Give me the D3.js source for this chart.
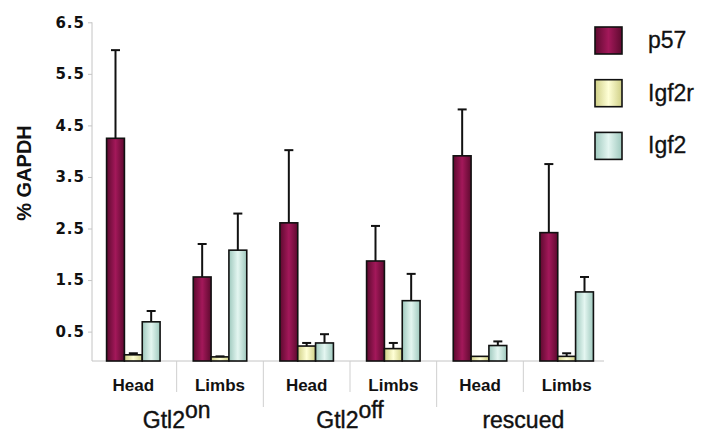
<!DOCTYPE html>
<html>
<head>
<meta charset="utf-8">
<script src="https://cdn.jsdelivr.net/npm/d3@7"></script>
<style>
  html, body { margin: 0; padding: 0; background: #fff; }
  svg { display: block; font-family: "Liberation Sans", Arial, sans-serif; }
  .ylab { font-family: "DejaVu Sans", sans-serif; font-size: 15px; font-weight: bold; fill: #111; letter-spacing: 1px; }
</style>
</head>
<body>
<svg id="chart" width="709" height="435"></svg>
<script>
// Expression relative to GAPDH, by genotype and tissue
const groups = ["Gtl2on", "Gtl2off", "rescued"];
const groupBase = ["Gtl2", "Gtl2", "rescued"];
const groupSup = ["on", "off", ""];
const tissues = ["Head", "Limbs"];
const seriesNames = ["p57", "Igf2r", "Igf2"];

// Means (6 categories: group x tissue)
const p57 = [4.25, 1.56, 2.61, 1.87, 3.91, 2.42];
const igf2r = [0.05, 0.01, 0.22, 0.17, 0.02, 0.02];
const igf2 = [0.69, 2.08, 0.28, 1.10, 0.23, 1.27];
// Upper error bars
const p57Err = [1.71, 0.64, 1.41, 0.68, 0.90, 1.33];
const igf2rErr = [0.03, 0.01, 0.06, 0.11, 0.00, 0.06];
const igf2Err = [0.21, 0.71, 0.17, 0.52, 0.08, 0.29];

const yTicks = [0.5, 1.5, 2.5, 3.5, 4.5, 5.5, 6.5];

const series = [
  { name: seriesNames[0], values: p57, err: p57Err, c: ["#5e0a2f", "#a3185a", "#5e0a2f"] },
  { name: seriesNames[1], values: igf2r, err: igf2rErr, c: ["#cfcf86", "#ffffd6", "#cfcf86"] },
  { name: seriesNames[2], values: igf2, err: igf2Err, c: ["#9fc9be", "#e4f6f1", "#9fc9be"] }
];

const categories = [];
groups.forEach((g, gi) => tissues.forEach(t => categories.push({ id: g + "|" + t, group: gi, tissue: t })));

const svg = d3.select("#chart");
const defs = svg.append("defs");
series.forEach((s, i) => {
  const lg = defs.append("linearGradient").attr("id", "grad" + i)
    .attr("x1", "0%").attr("x2", "100%").attr("y1", "0%").attr("y2", "0%");
  lg.append("stop").attr("offset", "0%").attr("stop-color", s.c[0]);
  lg.append("stop").attr("offset", "50%").attr("stop-color", s.c[1]);
  lg.append("stop").attr("offset", "100%").attr("stop-color", s.c[2]);
});

const axisX = 92, baseY = 361, topY = 22.3;
const x = d3.scaleBand().domain(categories.map(d => d.id)).range([90, 610]).padding(0);
const y = d3.scaleLinear().domain([-0.07, 6.5]).range([baseY, topY]);
const groupW = 53.5;
const xs = d3.scaleBand().domain(seriesNames).range([0, groupW]).padding(0);

// y axis: line and ticks from d3, labels drawn separately
const yAxis = d3.axisLeft(y).tickValues(yTicks).tickSize(4).tickFormat("");
const ya = svg.append("g").attr("transform", `translate(${axisX},0)`).call(yAxis);
ya.select(".domain").attr("d", `M0,${topY}V${baseY}`).attr("stroke", "#c4c4c4").attr("stroke-width", 1);
ya.selectAll(".tick line").attr("stroke", "#c4c4c4");
svg.append("g").selectAll("text").data(yTicks).join("text")
  .attr("class", "ylab")
  .attr("x", axisX - 7).attr("y", d => y(d)).attr("dy", "0.36em")
  .attr("text-anchor", "end")
  .text(d => d3.format(".1f")(d));

// baseline
svg.append("line").attr("x1", axisX).attr("x2", x.range()[1] - 6)
  .attr("y1", baseY).attr("y2", baseY).attr("stroke", "#c4c4c4").attr("stroke-width", 1);

// category separators
categories.forEach((d, i) => {
  if (i === 0) return;
  const xx = x(d.id);
  const isGroupEdge = categories[i - 1].group !== d.group;
  svg.append("line").attr("x1", xx).attr("x2", xx)
    .attr("y1", baseY).attr("y2", isGroupEdge ? 407 : 392)
    .attr("stroke", "#cfcfcf").attr("stroke-width", 1);
});

// bars
const barG = svg.append("g");
series.forEach((s, si) => {
  categories.forEach((c, ci) => {
    const x0 = x(c.id) + x.bandwidth() / 2 - groupW / 2 + xs(s.name);
    const v = s.values[ci];
    barG.append("rect")
      .attr("x", x0).attr("width", xs.bandwidth())
      .attr("y", y(v)).attr("height", Math.max(0, y.range()[0] - y(v)))
      .attr("fill", `url(#grad${si})`).attr("stroke", "#111").attr("stroke-width", 1.6);
  });
});

// error bars (upper only)
const errG = svg.append("g").attr("stroke", "#111").attr("stroke-width", 2);
series.forEach((s, si) => {
  categories.forEach((c, ci) => {
    const e = s.err[ci];
    if (!(e > 0)) return;
    const cx = x(c.id) + x.bandwidth() / 2 - groupW / 2 + xs(s.name) + xs.bandwidth() / 2;
    const v = s.values[ci];
    errG.append("line").attr("x1", cx).attr("x2", cx).attr("y1", y(v)).attr("y2", y(v + e));
    errG.append("line").attr("x1", cx - 4.5).attr("x2", cx + 4.5).attr("y1", y(v + e)).attr("y2", y(v + e));
  });
});

// tissue labels
svg.append("g").selectAll("text").data(categories).join("text")
  .attr("x", d => x(d.id) + x.bandwidth() / 2)
  .attr("y", 391)
  .attr("text-anchor", "middle")
  .attr("font-size", 17).attr("font-weight", "bold").attr("fill", "#111")
  .text(d => d.tissue);

// group labels
groups.forEach((g, gi) => {
  const ids = categories.filter(c => c.group === gi).map(c => c.id);
  const cx = (x(ids[0]) + x(ids[ids.length - 1]) + x.bandwidth()) / 2;
  const t = svg.append("text").attr("x", cx).attr("y", 428)
    .attr("text-anchor", "middle").attr("font-size", 23).attr("fill", "#111")
    .attr("stroke", "#111").attr("stroke-width", 0.4);
  t.append("tspan").text(groupBase[gi]);
  if (groupSup[gi]) t.append("tspan").attr("dy", -10).text(groupSup[gi]);
});

// y title
svg.append("text")
  .attr("transform", `translate(31,173) rotate(-90)`)
  .attr("text-anchor", "middle")
  .attr("font-size", 20).attr("font-weight", "bold").attr("fill", "#111")
  .text("% GAPDH");

// legend
const leg = svg.append("g").attr("transform", "translate(595,27)");
series.forEach((s, si) => {
  const g = leg.append("g").attr("transform", `translate(0,${si * 52.7})`);
  g.append("rect").attr("width", 27).attr("height", 27)
    .attr("fill", `url(#grad${si})`).attr("stroke", "#111").attr("stroke-width", 1.6);
  g.append("text").attr("x", 53).attr("y", 21).attr("font-size", 23)
    .attr("fill", "#111").attr("stroke", "#111").attr("stroke-width", 0.3).text(s.name);
});
</script>
</body>
</html>
